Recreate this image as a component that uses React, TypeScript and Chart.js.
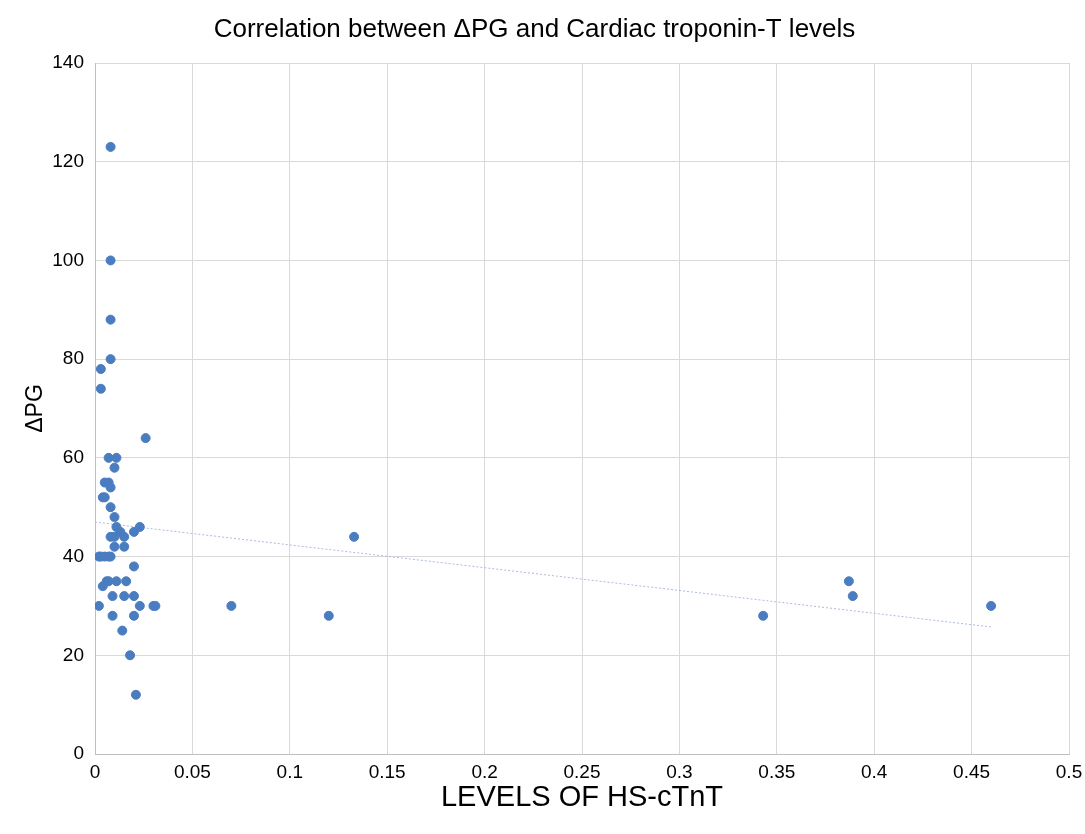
import React, { useEffect, useRef } from "react";
import { Chart, registerables } from "chart.js";

Chart.register(...registerables);

const title = "Correlation between \u0394PG and Cardiac troponin-T levels";
const xTitle = "LEVELS OF HS-cTnT";
const yTitle = "\u0394PG";

const hsTnT = [
  0.008, 0.008, 0.008, 0.008, 0.003, 0.003, 0.026, 0.007, 0.011, 0.010,
  0.005, 0.007, 0.008, 0.004, 0.005, 0.008, 0.010, 0.011, 0.023, 0.013,
  0.020, 0.008, 0.010, 0.015, 0.133, 0.015, 0.010, 0.002, 0.003, 0.005,
  0.007, 0.008, 0.020, 0.007, 0.011, 0.016, 0.387, 0.004, 0.006, 0.009,
  0.015, 0.020, 0.389, 0.002, 0.023, 0.030, 0.031, 0.070, 0.460, 0.009,
  0.020, 0.120, 0.343, 0.014, 0.018, 0.021,
];
const deltaPG = [
  123, 100, 88, 80, 78, 74, 64, 60, 60, 58,
  55, 55, 54, 52, 52, 50, 48, 46, 46, 45,
  45, 44, 44, 44, 44, 42, 42, 40, 40, 40,
  40, 40, 38, 35, 35, 35, 35, 34, 35, 32,
  32, 32, 32, 30, 30, 30, 30, 30, 30, 28,
  28, 28, 28, 25, 20, 12,
];
const trendStartX = 0.0;
const trendEndX = 0.46;

export default function App() {
  const ref = useRef<HTMLCanvasElement>(null);
  useEffect(() => {
    document.body.style.margin = "0";
    const pts = hsTnT.map((x, i) => ({ x, y: deltaPG[i] }));
    const n = pts.length;
    const mx = hsTnT.reduce((a, b) => a + b, 0) / n;
    const my = deltaPG.reduce((a, b) => a + b, 0) / n;
    let sxy = 0, sxx = 0;
    pts.forEach((p) => { sxy += (p.x - mx) * (p.y - my); sxx += (p.x - mx) ** 2; });
    const slope = sxy / sxx;
    const icpt = my - slope * mx;
    const trend = [trendStartX, trendEndX].map((x) => ({ x, y: icpt + slope * x }));
    const font = "'Liberation Sans', Arial, sans-serif";
    const chart = new Chart(ref.current!, {
      type: "scatter",
      data: {
        datasets: [
          {
            data: pts,
            backgroundColor: "#4a7cc0",
            borderColor: "#4a7cc0",
            pointRadius: 4.5,
            pointHoverRadius: 4.5,
            order: 1,
          },
          {
            type: "line",
            data: trend,
            borderColor: "#a9bcd9",
            borderWidth: 1,
            borderDash: [2, 2],
            pointRadius: 0,
            fill: false,
            order: 2,
          } as any,
        ],
      },
      options: {
        animation: false,
        responsive: false,
        layout: { padding: { left: 0, right: 16, top: 0, bottom: 0 } },
        plugins: {
          legend: { display: false },
          tooltip: { enabled: false },
          title: {
            display: true,
            text: title,
            color: "#000",
            font: { family: font, size: 26, weight: "normal", lineHeight: 1 },
            padding: { top: 17, bottom: 20 },
          },
        },
        scales: {
          x: {
            type: "linear",
            min: 0,
            max: 0.5,
            ticks: {
              stepSize: 0.05,
              color: "#000",
              font: { family: font, size: 19 },
              padding: 7,
              maxRotation: 0,
              autoSkip: false,
              callback: (v: any) => String(Math.round(Number(v) * 100) / 100),
            },
            grid: { color: "#d9d9d9", tickLength: 0 },
            border: { color: "#bfbfbf" },
            title: {
              display: true,
              text: xTitle,
              color: "#000",
              font: { family: font, size: 29, lineHeight: 1 },
              padding: { top: 0, bottom: 22 },
            },
            afterFit: (s: any) => { s.height = 80; s.paddingLeft = 0; s.paddingRight = 0; },
          },
          y: {
            type: "linear",
            min: 0,
            max: 140,
            ticks: {
              stepSize: 20,
              color: "#000",
              font: { family: font, size: 19 },
              padding: 11,
            },
            grid: { color: "#d9d9d9", tickLength: 0 },
            border: { color: "#bfbfbf" },
            title: {
              display: true,
              text: yTitle,
              color: "#000",
              font: { family: font, size: 23, lineHeight: 1 },
              padding: { top: 24, bottom: 0 },
            },
            afterFit: (s: any) => { s.width = 95; s.paddingTop = 0; s.paddingBottom = 0; },
          },
        },
      },
    });
    return () => chart.destroy();
  }, []);
  return <canvas ref={ref} width={1085} height={834} style={{ display: "block" }} />;
}
